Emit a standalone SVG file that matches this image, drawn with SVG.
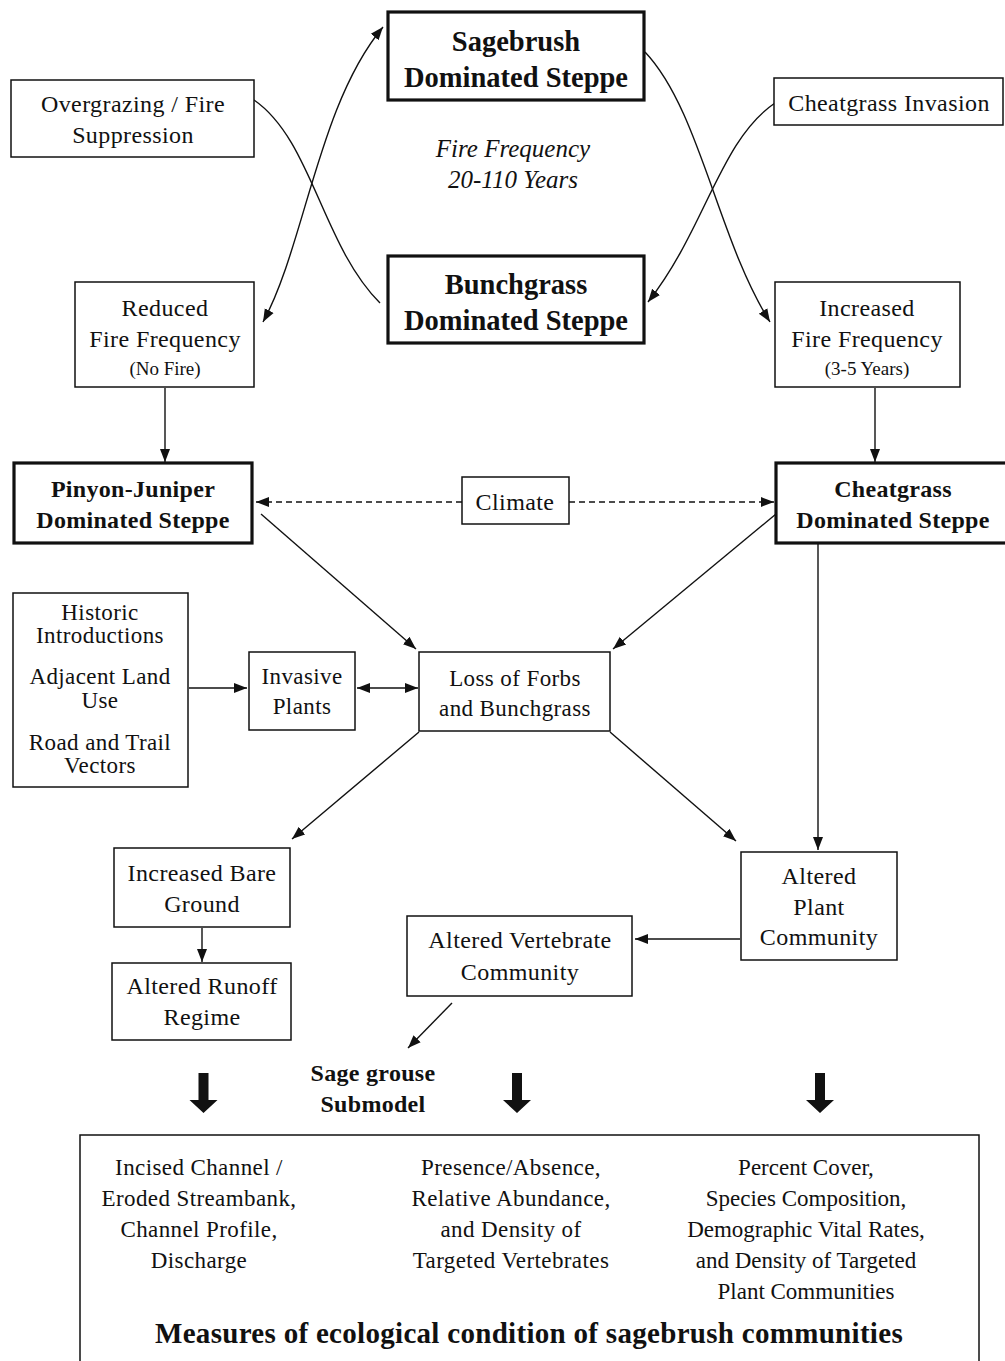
<svg xmlns="http://www.w3.org/2000/svg" width="1005" height="1361" viewBox="0 0 1005 1361">
<style>
.bg{fill:#fff}
.box{fill:#fff;stroke:#111;stroke-width:1.5}
.bbox{fill:#fff;stroke:#111;stroke-width:3.2}
text{font-family:"Liberation Serif","Times New Roman",serif;fill:#111;text-anchor:middle}
.t{font-size:24px;letter-spacing:0.4px}
.s{font-size:19px}
.b{font-size:28.5px;font-weight:bold}
.bm{font-size:24px;font-weight:bold;letter-spacing:0.3px}
.it{font-size:25px;font-style:italic}
.m{font-size:23px;letter-spacing:0.4px}
.ttl{font-size:29px;font-weight:bold;letter-spacing:0.3px}
.c{fill:none;stroke:#111;stroke-width:1.4}
.d{fill:none;stroke:#111;stroke-width:1.4;stroke-dasharray:6 4}
.big{fill:#111}
</style>
<defs>
<marker id="ah" markerUnits="userSpaceOnUse" markerWidth="14" markerHeight="12" refX="13" refY="5" orient="auto-start-reverse" viewBox="0 0 14 10">
<path d="M0,0 L13,5 L0,10 z" fill="#111"/>
</marker>
</defs>
<rect class="bg" x="0" y="0" width="1005" height="1361"/>

<g id="connectors">
<path class="c" d="M263,322 C305,245 318,105 383,27" marker-start="url(#ah)" marker-end="url(#ah)"/>
<path class="c" d="M254,100 C312,140 322,245 380,303"/>
<path class="c" d="M645,52 C700,110 718,240 770,322" marker-end="url(#ah)"/>
<path class="c" d="M775,103 C720,140 705,230 648,302" marker-end="url(#ah)"/>
<path class="c" d="M165,388 L165,462" marker-end="url(#ah)"/>
<path class="c" d="M875,388 L875,462" marker-end="url(#ah)"/>
<path class="d" d="M462,502 L256,502" marker-end="url(#ah)"/>
<path class="d" d="M569,502 L774,502" marker-end="url(#ah)"/>
<path class="c" d="M261,514 L416,649" marker-end="url(#ah)"/>
<path class="c" d="M776,514 L613,649" marker-end="url(#ah)"/>
<path class="c" d="M818,544 L818,850" marker-end="url(#ah)"/>
<path class="c" d="M189,688 L247,688" marker-end="url(#ah)"/>
<path class="c" d="M357,688 L418,688" marker-start="url(#ah)" marker-end="url(#ah)"/>
<path class="c" d="M419,732 L292,839" marker-end="url(#ah)"/>
<path class="c" d="M610,732 L736,841" marker-end="url(#ah)"/>
<path class="c" d="M202,928 L202,962" marker-end="url(#ah)"/>
<path class="c" d="M740,939 L635,939" marker-end="url(#ah)"/>
<path class="c" d="M452,1003 L408,1048" marker-end="url(#ah)"/>
<path class="big" d="M198.5,1073 h10 v27 h9 l-14,13 l-14,-13 h9 z"/>
<path class="big" d="M512,1073 h10 v27 h9 l-14,13 l-14,-13 h9 z"/>
<path class="big" d="M815,1073 h10 v27 h9 l-14,13 l-14,-13 h9 z"/>
</g>

<g id="sagebrush">
<rect class="bbox" x="388" y="12" width="256" height="88"/>
<text class="b" x="516" y="51">Sagebrush</text>
<text class="b" x="516" y="87">Dominated Steppe</text>
</g>
<g id="overgrazing">
<rect class="box" x="11" y="80" width="243" height="77"/>
<text class="t" x="133" y="112">Overgrazing / Fire</text>
<text class="t" x="133" y="143">Suppression</text>
</g>
<g id="cheatgrass-invasion">
<rect class="box" x="774" y="78" width="229" height="47"/>
<text class="t" x="889" y="111">Cheatgrass Invasion</text>
</g>
<g id="fire-frequency">
<text class="it" x="513" y="157">Fire Frequency</text>
<text class="it" x="513" y="188">20-110 Years</text>
</g>
<g id="bunchgrass">
<rect class="bbox" x="388" y="256" width="256" height="87"/>
<text class="b" x="516" y="294">Bunchgrass</text>
<text class="b" x="516" y="330">Dominated Steppe</text>
</g>
<g id="reduced-fire">
<rect class="box" x="75" y="282" width="179" height="105"/>
<text class="t" x="165" y="316">Reduced</text>
<text class="t" x="165" y="347">Fire Frequency</text>
<text class="s" x="165" y="375">(No Fire)</text>
</g>
<g id="increased-fire">
<rect class="box" x="775" y="282" width="185" height="105"/>
<text class="t" x="867" y="316">Increased</text>
<text class="t" x="867" y="347">Fire Frequency</text>
<text class="s" x="867" y="375">(3-5 Years)</text>
</g>
<g id="pinyon">
<rect class="bbox" x="14" y="463" width="238" height="80"/>
<text class="bm" x="133" y="497">Pinyon-Juniper</text>
<text class="bm" x="133" y="528">Dominated Steppe</text>
</g>
<g id="climate">
<rect class="box" x="462" y="477" width="107" height="47"/>
<text class="t" x="515" y="510">Climate</text>
</g>
<g id="cheatgrass-steppe">
<rect class="bbox" x="776" y="463" width="232" height="80"/>
<text class="bm" x="893" y="497">Cheatgrass</text>
<text class="bm" x="893" y="528">Dominated Steppe</text>
</g>
<g id="historic">
<rect class="box" x="13" y="593" width="175" height="194"/>
<text class="m" x="100" y="620">Historic</text>
<text class="m" x="100" y="643">Introductions</text>
<text class="m" x="100" y="684">Adjacent Land</text>
<text class="m" x="100" y="708">Use</text>
<text class="m" x="100" y="750">Road and Trail</text>
<text class="m" x="100" y="773">Vectors</text>
</g>
<g id="invasive">
<rect class="box" x="249" y="652" width="106" height="78"/>
<text class="m" x="302" y="684">Invasive</text>
<text class="m" x="302" y="714">Plants</text>
</g>
<g id="loss">
<rect class="box" x="419" y="652" width="191" height="79"/>
<text class="m" x="515" y="686">Loss of Forbs</text>
<text class="m" x="515" y="716">and Bunchgrass</text>
</g>
<g id="bare-ground">
<rect class="box" x="114" y="848" width="176" height="79"/>
<text class="t" x="202" y="881">Increased Bare</text>
<text class="t" x="202" y="912">Ground</text>
</g>
<g id="runoff">
<rect class="box" x="112" y="963" width="179" height="77"/>
<text class="t" x="202" y="994">Altered Runoff</text>
<text class="t" x="202" y="1025">Regime</text>
</g>
<g id="plant-community">
<rect class="box" x="741" y="852" width="156" height="108"/>
<text class="t" x="819" y="884">Altered</text>
<text class="t" x="819" y="915">Plant</text>
<text class="t" x="819" y="945">Community</text>
</g>
<g id="vertebrate">
<rect class="box" x="407" y="916" width="225" height="80"/>
<text class="t" x="520" y="948">Altered Vertebrate</text>
<text class="t" x="520" y="980">Community</text>
</g>
<g id="sage-grouse">
<text class="bm" x="373" y="1081">Sage grouse</text>
<text class="bm" x="373" y="1112">Submodel</text>
</g>
<g id="measures">
<rect class="box" x="80" y="1135" width="899" height="240"/>
<text class="m" x="199" y="1175">Incised Channel /</text>
<text class="m" x="199" y="1206">Eroded Streambank,</text>
<text class="m" x="199" y="1237">Channel Profile,</text>
<text class="m" x="199" y="1268">Discharge</text>
<text class="m" x="511" y="1175">Presence/Absence,</text>
<text class="m" x="511" y="1206">Relative Abundance,</text>
<text class="m" x="511" y="1237">and Density of</text>
<text class="m" x="511" y="1268">Targeted Vertebrates</text>
<text class="m" x="806" y="1175" style="letter-spacing:0">Percent Cover,</text>
<text class="m" x="806" y="1206" style="letter-spacing:0">Species Composition,</text>
<text class="m" x="806" y="1237" style="letter-spacing:0">Demographic Vital Rates,</text>
<text class="m" x="806" y="1268" style="letter-spacing:0">and Density of Targeted</text>
<text class="m" x="806" y="1299" style="letter-spacing:0">Plant Communities</text>
<text class="ttl" x="529" y="1343">Measures of ecological condition of sagebrush communities</text>
</g>
</svg>
